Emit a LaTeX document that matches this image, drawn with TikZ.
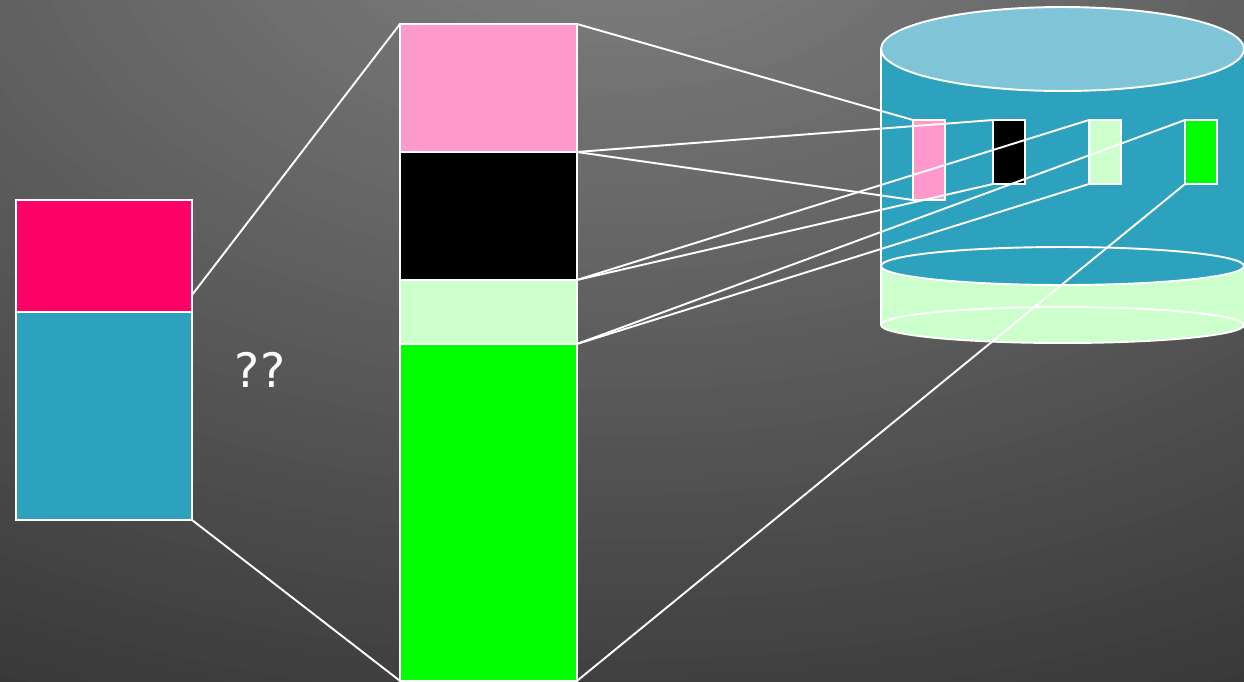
\documentclass[tikz,border=0pt]{standalone}
\usepackage{fontspec}
\usepackage{xcolor}
\usetikzlibrary{positioning}
\newfontfamily\qfont{DejaVu Sans}
\definecolor{bglight}{HTML}{838383}
\definecolor{bgdark}{HTML}{292929}
\definecolor{hotpink}{HTML}{FF0066}
\definecolor{teal}{HTML}{2CA2BF}
\definecolor{skyblue}{HTML}{80C4D8}
\definecolor{softpink}{HTML}{FF99CC}
\definecolor{mint}{HTML}{CCFFCC}
\definecolor{lime}{HTML}{00FF00}

\begin{document}
\begin{tikzpicture}[x=0.02cm,y=-0.02cm,
  seg/.style={rectangle,draw=white,line width=1.1pt,inner sep=0pt,outer sep=0pt,anchor=north west},
  link/.style={white,line width=1.1pt}]
\useasboundingbox (0,0) rectangle (1244,681);
% background
\begin{scope}
\clip (0,0) rectangle (1244,681);
\foreach \d [evaluate=\d as \p using \d/10.6] in {1060,1045,...,0}
  \fill[bgdark!\p!bglight] (620,-100) ellipse [x radius=\d*0.032cm,y radius=\d*0.02cm];
\end{scope}

% left block
\node[seg,fill=hotpink,minimum width=3.52cm,minimum height=2.24cm] (lpink) at (16,200) {};
\node[seg,fill=teal,minimum width=3.52cm,minimum height=4.16cm,below=0pt of lpink] (lblue) {};
\coordinate (ltop) at (192,295);
\node[font=\qfont\fontsize{27}{32}\selectfont,text=white] (qq) at (260,370) {??};

% middle column
\node[seg,fill=softpink,minimum width=3.54cm,minimum height=2.56cm] (mpink) at (400,24) {};
\node[seg,fill=black,minimum width=3.54cm,minimum height=2.56cm,below=0pt of mpink] (mblack) {};
\node[seg,fill=mint,minimum width=3.54cm,minimum height=1.28cm,below=0pt of mblack] (mlgreen) {};
\node[seg,fill=lime,minimum width=3.54cm,minimum height=6.74cm,below=0pt of mlgreen] (mgreen) {};

% disk
\fill[mint] (881,266) -- (881,325) arc[start angle=180,end angle=360,x radius=3.63cm,y radius=0.36cm] -- (1244,266) -- cycle;
\draw[link] (881,266) -- (881,325);
\draw[link] (1062.5,325) ellipse [x radius=3.63cm,y radius=0.36cm];
\fill[teal] (881,49) -- (881,266) arc[start angle=180,end angle=360,x radius=3.63cm,y radius=0.38cm] -- (1244,49) -- cycle;
\draw[link] (881,49) -- (881,266);
\draw[link] (1062.5,266) ellipse [x radius=3.63cm,y radius=0.38cm];
\draw[link,fill=skyblue] (1062.5,49) ellipse [x radius=3.63cm,y radius=0.84cm];

% blocks on disk
\node[seg,fill=softpink,minimum width=0.64cm,minimum height=1.6cm] (spink) at (913,120) {};
\node[seg,fill=black,minimum width=0.64cm,minimum height=1.28cm] (sblack) at (993,120) {};
\node[seg,fill=mint,minimum width=0.64cm,minimum height=1.28cm] (slgreen) at (1089,120) {};
\node[seg,fill=lime,minimum width=0.64cm,minimum height=1.28cm] (sgreen) at (1185,120) {};

% mappings
\draw[link] (ltop) -- (mpink.north west);
\draw[link] (lblue.south east) -- (mgreen.south west);
\draw[link] (mpink.north east) -- (spink.north west);
\draw[link] (mpink.south east) -- (spink.south west);
\draw[link] (mblack.north east) -- (sblack.north west);
\draw[link] (mblack.south east) -- (sblack.south west);
\draw[link] (mlgreen.north east) -- (slgreen.north west);
\draw[link] (mlgreen.south east) -- (slgreen.south west);
\draw[link] (mgreen.north east) -- (sgreen.north west);
\draw[link] (mgreen.south east) -- (sgreen.south west);
\end{tikzpicture}
\end{document}
